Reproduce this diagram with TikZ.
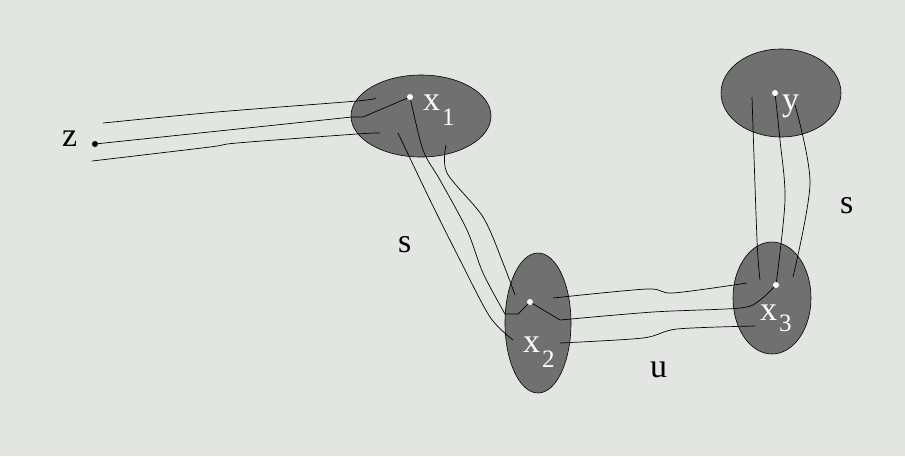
\documentclass[tikz,border=0pt]{standalone}
\usepackage{fontspec}
\setmainfont{Liberation Serif}
\usetikzlibrary{calc,backgrounds}
\definecolor{fond}{RGB}{226,230,225}
\definecolor{ensemble}{RGB}{112,112,112}
\newcommand{\indice}[3][15pt]{#2\hspace{2pt}\raisebox{-#1}{\fontsize{25}{25}\selectfont #3}}

\begin{document}
\begin{tikzpicture}[%
        x=1pt,y=-1pt,%
        chemin/.style={black, line width=0.7pt},%
        etiquette/.style={anchor=base west, inner sep=0pt, font=\fontsize{34}{36}\selectfont},%
        blanc/.style={etiquette, text=white}%
    ]
        \tikzset{%
            point/.pic={%
                \fill (0,0) circle[radius=3pt];%
            }%
        }%
        \path[use as bounding box, fill=fond] (0,0) rectangle (905,456);%

        %
        % Ensembles
        %
        \foreach \n/\cx/\cy/\rx/\ry in {x1/421/116/70/41,y/781/93/60/44,x2/538/323/33/70,x3/772/298/39/56} {%
            \draw[fill=ensemble, line width=0.6pt] (\cx,\cy) coordinate (\n\space set)%
            ellipse[x radius=\rx pt, y radius=\ry pt];%
        }%

        % Points
        \coordinate (z) at (95,144);%
        \coordinate (x1) at (410,97);%
        \coordinate (y) at (775,93);%
        \coordinate (x2) at (530,302);%
        \coordinate (x3) at (776,285);%

        %
        % Chemins
        %
        % De z vers x1
        \draw[chemin] plot[smooth] coordinates {(103,123) (217,112) (357,101) (375,98)};%
        \draw[chemin] (z) -- (352,117) -- (363,117) -- (x1);%
        \draw[chemin] plot[smooth] coordinates {(92,161) (210,147) (237,143) (357,134) (380,133)};%

        % De x1 vers x2
        \draw[chemin] plot[smooth] coordinates {(398,133) (430,200) (460,260) (490,317) (513,340)};%
        \draw[chemin] plot[smooth] coordinates {(x1) (423,150) (440,180) (467,230) (483,273) (505,314)};%
        \draw[chemin] (505,314) -- (518,314) -- (x2) -- (560,320);%
        \draw[chemin] plot[smooth] coordinates {(446,145) (447,173) (483,217) (503,263) (515,295)};%

        % De x2 vers x3
        \draw[chemin] plot[smooth] coordinates {(553,298) (647,289) (673,293) (747,283)};%
        \draw[chemin] plot[smooth] coordinates {(560,320) (653,312) (740,308) (760,300) (x3)};%
        \draw[chemin] plot[smooth] coordinates {(560,343) (643,338) (677,329) (755,326)};%

        % De x3 vers y
        \draw[chemin] plot[smooth] coordinates {(752,97) (757,240) (760,280)};%
        \draw[chemin] plot[smooth] coordinates {(y) (780,140) (785,200) (x3)};%
        \draw[chemin] plot[smooth] coordinates {(795,105) (810,183) (793,277)};%

        % Marques
        \draw (z) pic {point};%
        \foreach \p in {x1,y,x2,x3} {%
            \draw[white] (\p) pic {point};%
        }%

        %
        % Annotations
        %
        \node[etiquette] (lz) at (62,146) {z};%
        \node[blanc] (lx1) at (423,110) {\indice{x}{1}};%
        \node[blanc] (ly) at (782,110) {y};%
        \node[blanc] (lx2) at (523,352) {\indice{x}{2}};%
        \node[blanc] (lx3) at (760,320) {\indice[11pt]{x}{3}};%
        \node[etiquette] (ls1) at (398,252) {s};%
        \node[etiquette] (ls2) at (840,213) {s};%
        \node[etiquette] (lu) at (650,377) {u};%
    \end{tikzpicture}
\end{document}
